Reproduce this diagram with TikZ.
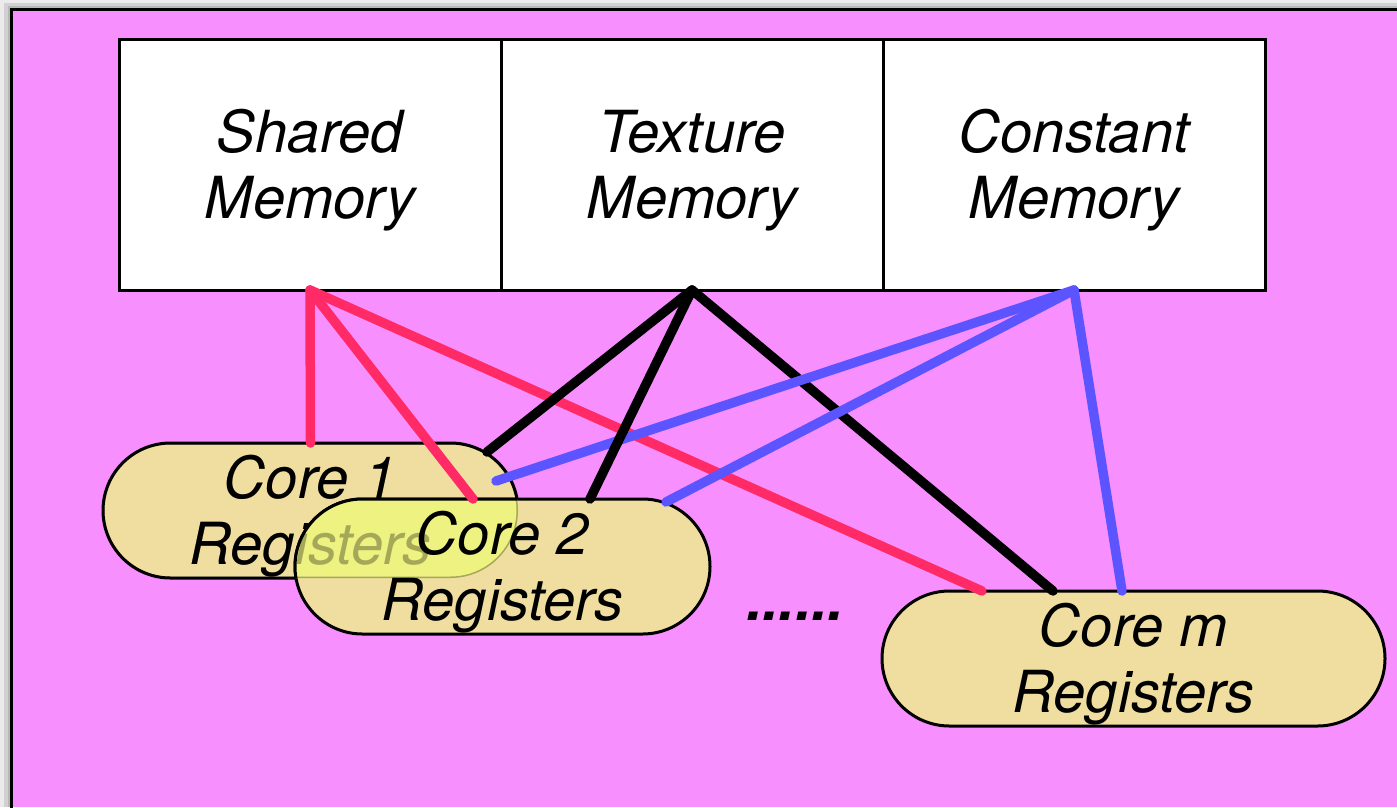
\documentclass[tikz,border=0pt]{standalone}
\usepackage{fontspec}
\setmainfont{TeX Gyre Heros}
\usetikzlibrary{positioning}

\definecolor{smbg}{RGB}{248,143,255}
\definecolor{regtan}{RGB}{240,222,160}
\definecolor{regmix}{RGB}{237,242,128}
\definecolor{shwire}{RGB}{255,42,102}
\definecolor{cnwire}{RGB}{92,85,255}

\begin{document}
\begin{tikzpicture}[x=1pt, y=-1pt,
  big/.style = {font=\fontsize{58}{66}\selectfont\itshape},
  mem/.style = {big, draw, line width=3pt, fill=white, align=center, inner sep=0pt, outer sep=0pt, text depth=1pt, minimum width=382pt, minimum height=251pt},
  core/.style = {big, draw, line width=3pt, fill=regtan, align=center, inner sep=0pt, outer sep=0pt, text depth=1pt, rounded corners=67.5pt, minimum width=415pt, minimum height=135pt},
  wire/.style = {line width=9.5pt, line cap=round}]
\useasboundingbox (0,0) rectangle (1397,807);
\clip (0,0) rectangle (1397,807);

% window frame with its drop shadow
\fill[black!8] (0,0) rectangle (1397,807);
\fill[black!18] (4,3) rectangle (1397,807);
\fill[black!28] (8,6) rectangle (1397,807);
\fill[smbg] (11,9) rectangle (1397,807);
\draw[line width=3pt] (11,812) -- (11,9) -- (1402,9);

% memories on the chip
\node[mem] (shared) at (310,164.5) {Shared\\Memory};
\node[mem] (texture) [right=0pt of shared] {Texture\\Memory};
\node[mem] (constant) [right=0pt of texture] {Constant\\Memory};

% register files
\node[core] (core1) at (310.5,510.5) {Core 1\\Registers};
\node[core] (core2) at (502.5,566.5) {Core 2\\Registers};
\node[core, minimum width=503pt] (corem) at (1133.5,658.5) {Core m\\Registers};
\node[big, font=\fontsize{58}{66}\selectfont\bfseries\itshape, anchor=base] (dots) at (795,620) {......};

% where core 1 and core 2 overlap
\begin{scope}
  \clip[rounded corners=67.5pt] (core1.south west) rectangle (core1.north east);
  \fill[regmix, rounded corners=67.5pt] (core2.south west) rectangle (core2.north east);
  \node[core, draw=none, fill=none, text opacity=0.3] at (core1) {Core 1\\Registers};
  \draw[line width=3pt, draw opacity=0.3, rounded corners=67.5pt] (core1.south west) rectangle (core1.north east);
  \node[core, fill=none] at (core2) {Core 2\\Registers};
\end{scope}

\draw[wire, shwire] (shared.south) -- (core1.north);
\draw[wire, shwire] (shared.south) -- ([xshift=-29.5pt]core2.north);
\draw[wire, shwire] (shared.south) -- ([xshift=-151.5pt]corem.north);
\draw[wire] (texture.south) -- ([xshift=-80.5pt]corem.north);
\draw[wire, cnwire] (constant.south) -- ([xshift=185.5pt,yshift=29.5pt]core1.center);
\draw[wire, cnwire] (constant.south) -- ([xshift=163.5pt,yshift=64.5pt]core2.center);
\draw[wire, cnwire] (constant.south) -- ([xshift=-11.5pt]corem.north);
\draw[wire] (texture.south) -- ([xshift=176.5pt,yshift=58.5pt]core1.center);
\draw[wire] (texture.south) -- ([xshift=87.5pt]core2.north);
\end{tikzpicture}
\end{document}
